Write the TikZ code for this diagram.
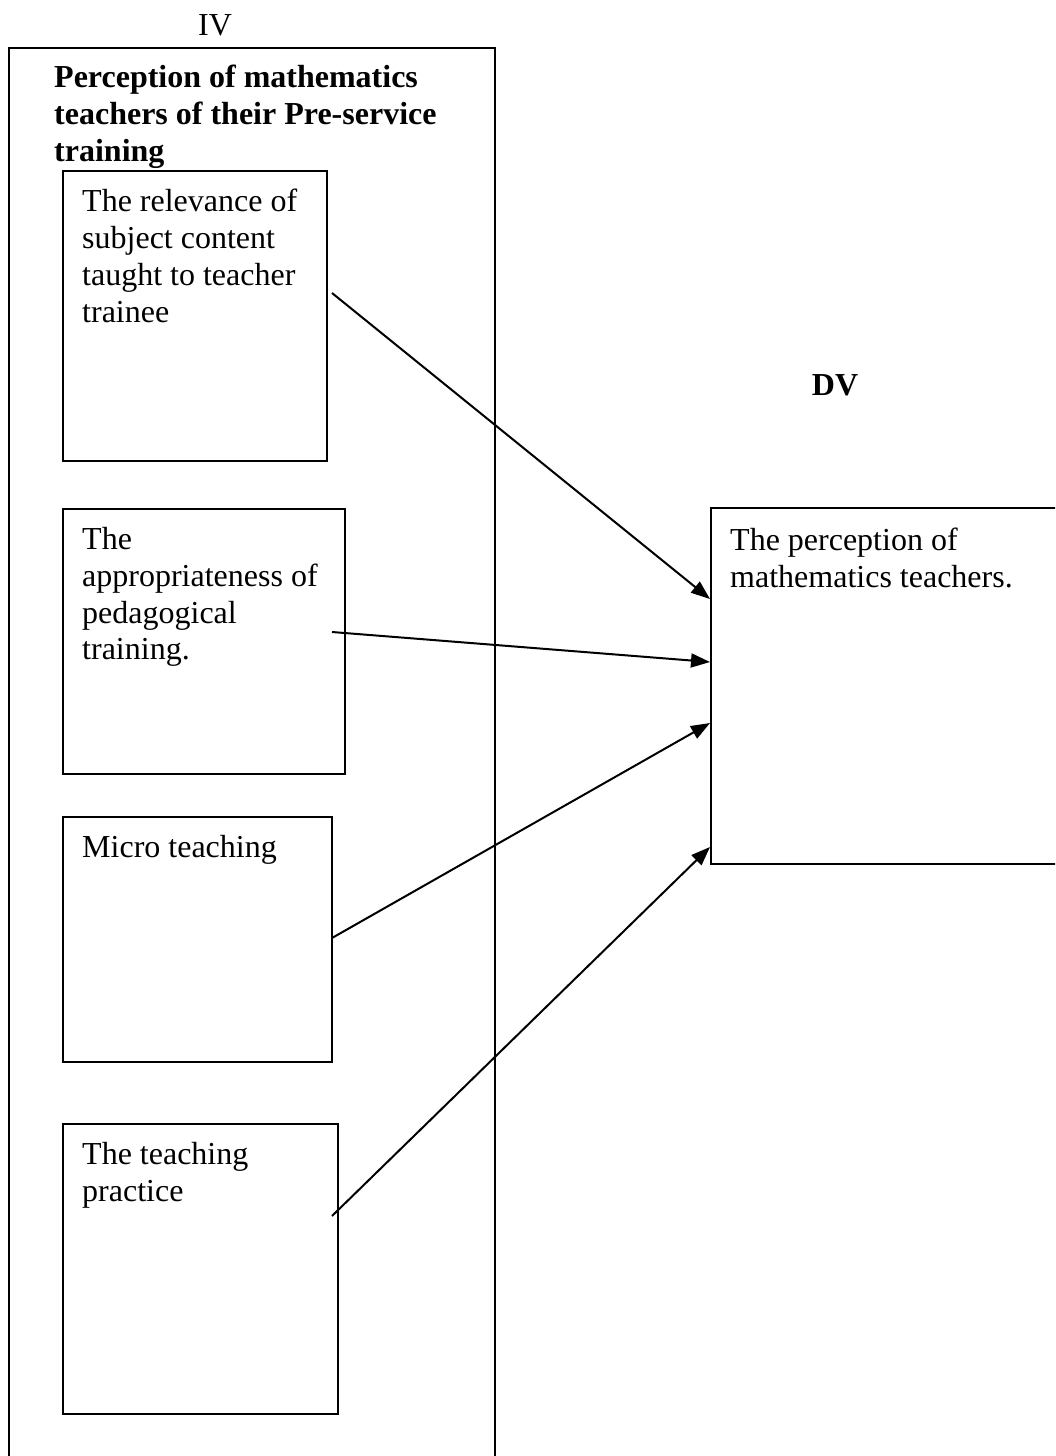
\documentclass[tikz,border=0pt]{standalone}
\usepackage{fontspec}
\setmainfont{Liberation Serif}
\usetikzlibrary{arrows.meta}

\tikzset{
  cell/.style={draw=black, line width=2pt, fill=white, anchor=north west, inner sep=0pt},
  celltext/.style={anchor=north west, inner sep=0pt, align=left, font=\fontsize{32}{36.8}\selectfont},
  link/.style={line width=2pt, -{Triangle[length=19pt,width=14pt]}}
}

\begin{document}
\begin{tikzpicture}[x=1pt,y=-1pt]

\useasboundingbox (0,0) rectangle (1055,1456);
\clip (0,0) rectangle (1055,1456);

%IV label
\node[celltext, anchor=base] (ivlabel) at (215,35) {IV};

%Outer IV box (runs off the page)
\node[cell, minimum width=486, minimum height=1460] (ivbox) at (8,47) {};
\node[celltext, font=\fontsize{32}{36.8}\selectfont\bfseries] (ivtitle) at (54,65)
  {Perception of mathematics\\teachers of their Pre-service\\training};

%Relevance of subject content
\node[cell, minimum width=264, minimum height=290] (relevance) at (62,170) {};
\node[celltext] (relevancetext) at ([shift={(20,19)}]relevance.north west)
  {The relevance of\\subject content\\taught to teacher\\trainee};

%Pedagogical training
\node[cell, minimum width=282, minimum height=265] (pedagogy) at (62,508) {};
\node[celltext] (pedagogytext) at ([shift={(20,19)}]pedagogy.north west)
  {The\\appropriateness of\\pedagogical\\training.};

%Micro teaching
\node[cell, minimum width=269, minimum height=245] (micro) at (62,816) {};
\node[celltext] (microtext) at ([shift={(20,19)}]micro.north west) {Micro teaching};

%Teaching practice
\node[cell, minimum width=275, minimum height=290] (practice) at (62,1123) {};
\node[celltext] (practicetext) at ([shift={(20,19)}]practice.north west)
  {The teaching\\practice};

%DV label
\node[celltext, anchor=base, font=\fontsize{32}{36.8}\selectfont\bfseries] (dvlabel) at (835,395) {DV};

%DV box (runs off the page)
\node[cell, minimum width=400, minimum height=356] (dvbox) at (710,507) {};
\node[celltext] (dvtext) at ([shift={(20,21)}]dvbox.north west)
  {The perception of\\mathematics teachers.};

%Arrows
\coordinate (relevance out) at (332,293);
\coordinate (pedagogy out) at (332,632);
\coordinate (micro out) at (332,938);
\coordinate (practice out) at (332,1216);

\draw[link] (relevance out) -- ([yshift=-92pt]dvbox.north west);
\draw[link] (pedagogy out) -- ([yshift=-155pt]dvbox.north west);
\draw[link] (micro out) -- ([yshift=-216pt]dvbox.north west);
\draw[link] (practice out) -- ([yshift=-340pt]dvbox.north west);

\end{tikzpicture}
\end{document}
